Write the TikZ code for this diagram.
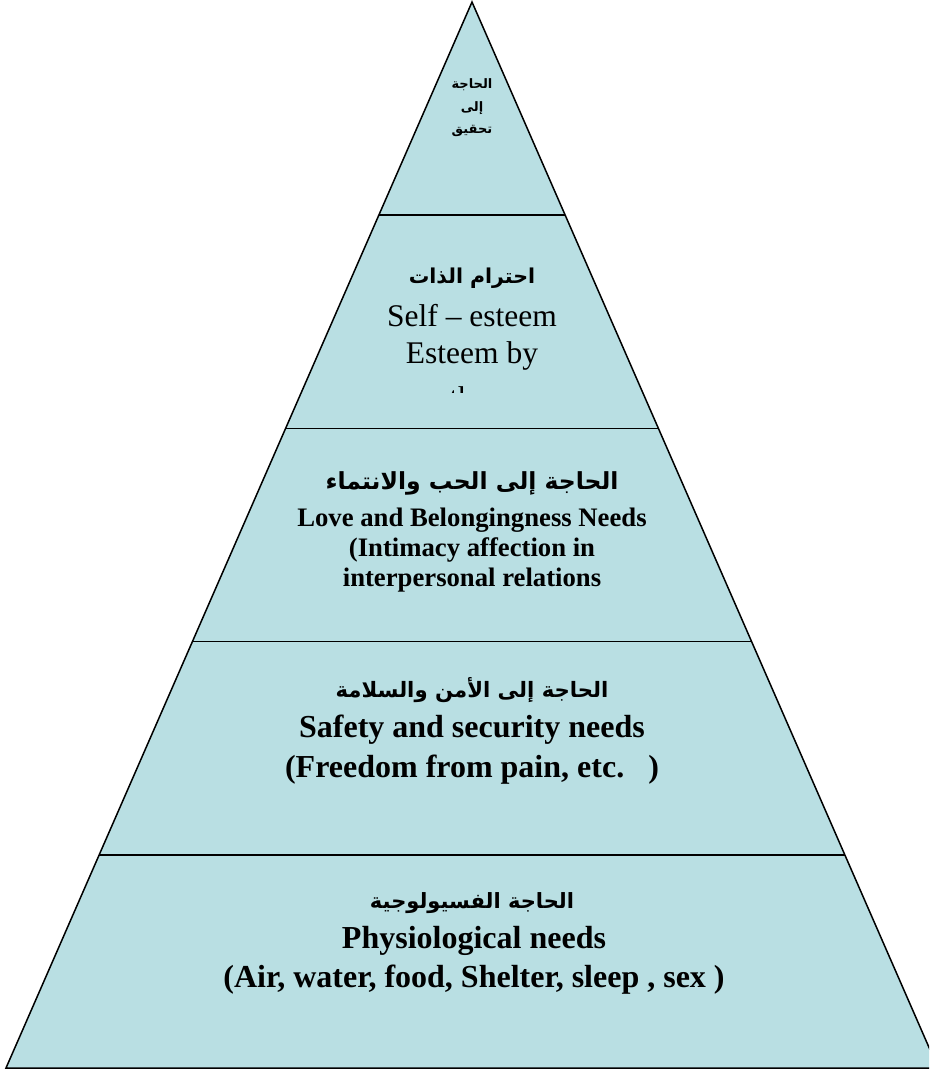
\documentclass[tikz,border=0pt]{standalone}
\usepackage{fontspec}
\setmainfont{Liberation Serif}
\newfontfamily\arabicfont[Script=Arabic]{DejaVu Sans}
\TeXXeTstate=1
\usetikzlibrary{calc}
\definecolor{pyrblue}{RGB}{185,223,227}
\newcommand{\artext}[1]{{\arabicfont\bfseries\beginR #1\endR}}

\begin{document}
\begin{tikzpicture}[x=1pt,y=-1pt,
    level/.style={draw=black,line width=1.5pt},
    artitle/.style={inner sep=0pt},
    entext/.style={inner sep=0pt,align=center}]
  \useasboundingbox (0,0) rectangle (929,1070);
  \clip (0,0) rectangle (929,1070);
  \coordinate (apex) at (472,2);
  \coordinate (bl) at (6,1068);
  \coordinate (br) at (938,1068);
  \filldraw[level,fill=pyrblue] (apex) -- (br) -- (bl) -- cycle;
  % level borders
  \foreach \t in {0.2,0.4,0.6,0.8}{\draw[level] ($(apex)!\t!(bl)$) -- ($(apex)!\t!(br)$);}
  % top: self actualization
  \node[entext,font=\fontsize{13}{22.5}\selectfont] (selfar) at (472,108) {\artext{الحاجة}\\\artext{إلى}\\\artext{تحقيق}};
  % esteem
  \node[artitle,font=\fontsize{20.5}{24}\selectfont] (esteemar) at (472,278) {\artext{احترام الذات}};
  \begin{scope}
    \clip (0,0) rectangle (929,392);
    \node[entext,font=\fontsize{31.5}{37}\selectfont] (esteem) at (472,357) {Self – esteem\\Esteem by\\[8pt]others};
  \end{scope}
  % love and belonging
  \node[artitle,font=\fontsize{23.5}{26}\selectfont] (lovear) at (472,483) {\artext{الحاجة إلى الحب والانتماء}};
  \node[entext,font=\bfseries\fontsize{26.7}{30}\selectfont] (love) at (472,550) {Love and Belongingness Needs\\(Intimacy affection in\\interpersonal relations};
  % safety
  \node[artitle,font=\fontsize{21.2}{24}\selectfont] (safetyar) at (472,690) {\artext{الحاجة إلى الأمن والسلامة}};
  \node[entext,font=\bfseries\fontsize{32}{40}\selectfont] (safety) at (472,750) {Safety and security needs\\(Freedom from pain, etc.~~~)};
  % physiological
  \node[artitle,font=\fontsize{21}{24}\selectfont] (physar) at (472,903) {\artext{الحاجة الفسيولوجية}};
  \node[entext,font=\bfseries\fontsize{32}{39}\selectfont] (phys) at (474,960) {Physiological needs\\(Air, water, food, Shelter, sleep , sex )};
\end{tikzpicture}
\end{document}
